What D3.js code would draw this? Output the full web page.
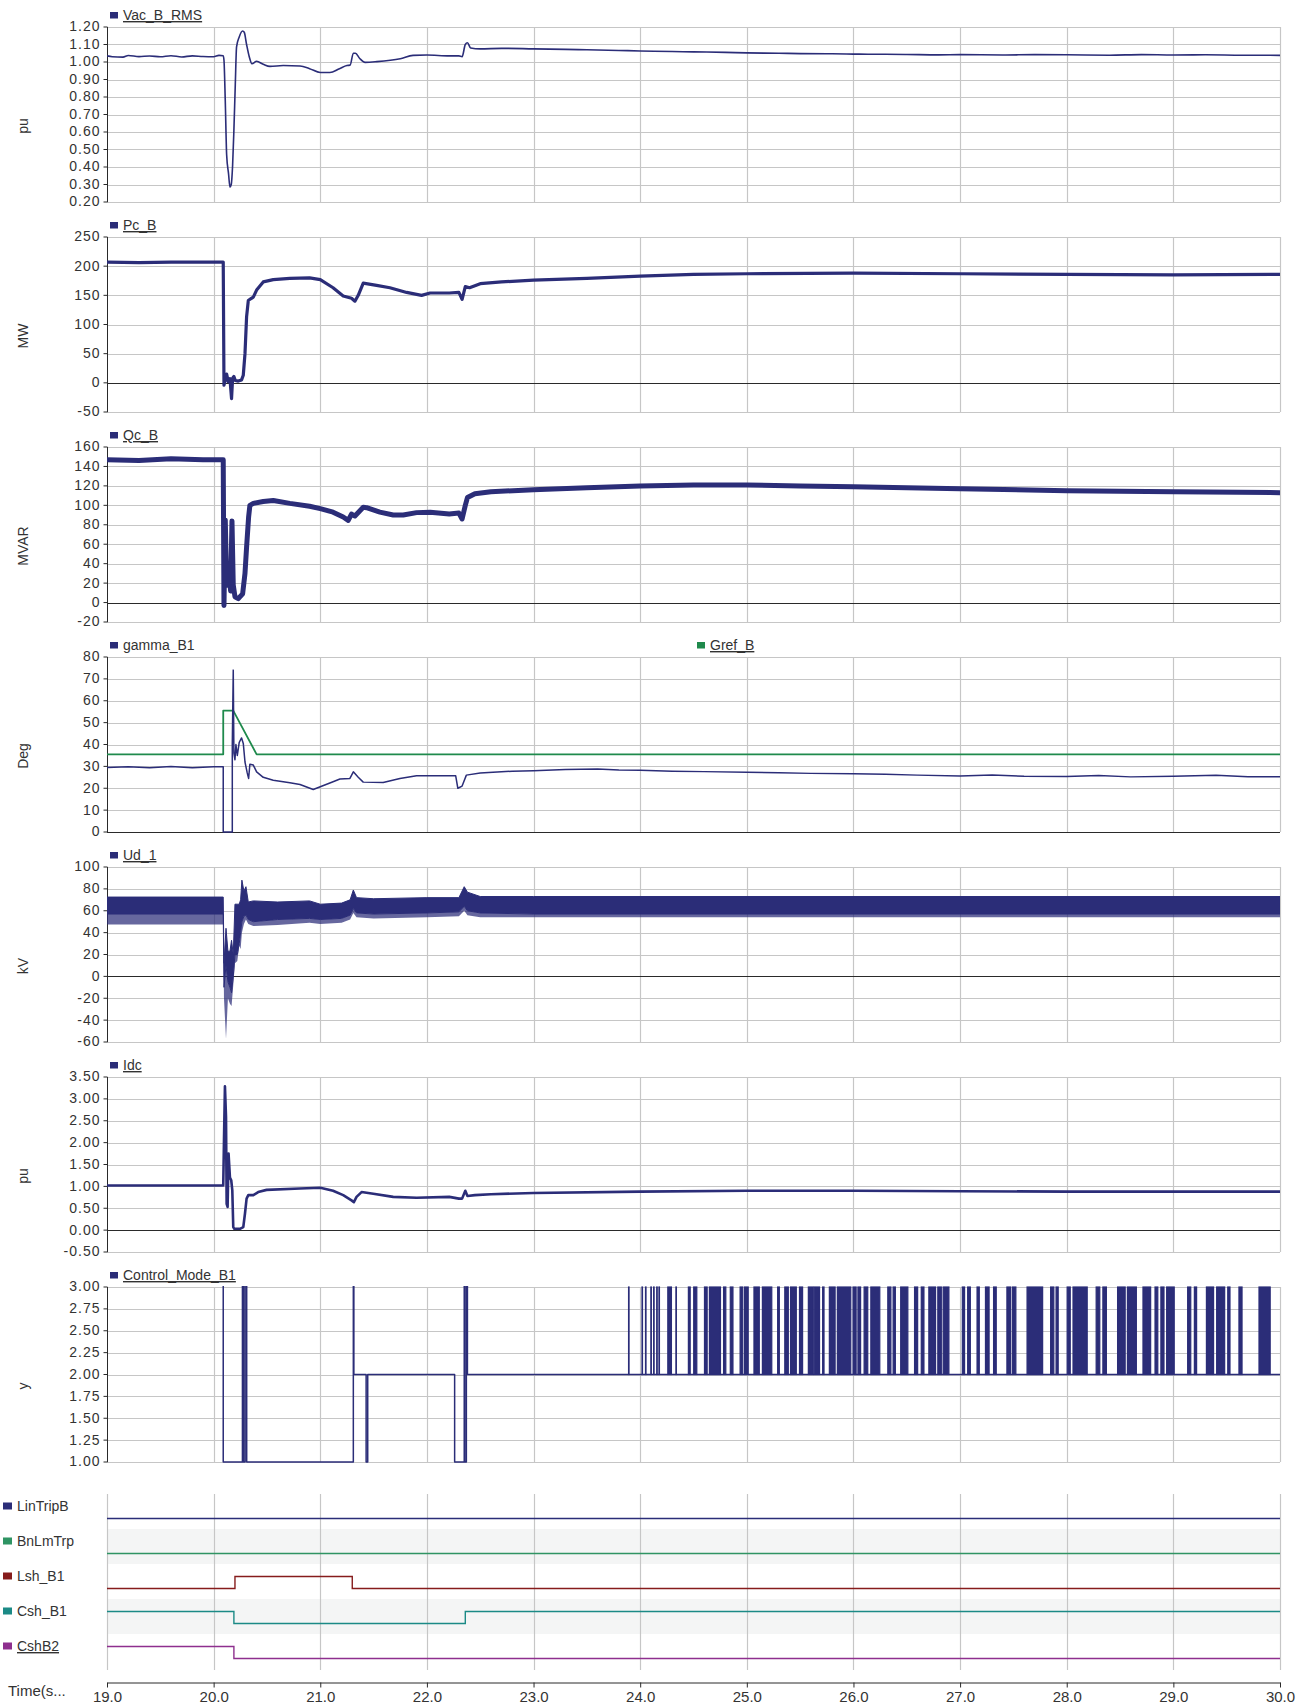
<!DOCTYPE html>
<html><head><meta charset="utf-8">
<script src="https://cdn.jsdelivr.net/npm/d3@7"></script>
<style>
body{margin:0;background:#fff}
svg{display:block;font-family:"Liberation Sans",Arial,sans-serif}
</style>
</head><body>
<svg id="c" width="1303" height="1705"></svg>
<script>
// ---------------- DATA ----------------
const timeTicks = [19,20,21,22,23,24,25,26,27,28,29,30];

const vacTicks = [0.2,0.3,0.4,0.5,0.6,0.7,0.8,0.9,1.0,1.1,1.2];
const vacT = [19.00,19.05,19.15,19.20,19.30,19.40,19.50,19.60,19.70,19.80,19.90,20.00,20.05,20.09,20.097,20.109,20.122,20.14,20.153,20.165,20.178,20.19,20.203,20.215,20.24,20.272,20.287,20.309,20.334,20.359,20.403,20.465,20.528,20.653,20.81,20.90,21.0,21.09,21.18,21.25,21.28,21.31,21.33,21.37,21.42,21.53,21.75,21.87,22.0,22.21,22.30,22.33,22.36,22.38,22.41,22.5,22.7,23.0,23.3,23.5,23.8,24.0,24.3,24.5,24.8,25.0,25.3,25.5,25.8,26.0,26.3,26.5,26.8,27.0,27.4,27.7,28.0,28.4,28.7,29.0,29.3,29.6,30.0];
const vacV = [1.035,1.030,1.028,1.037,1.031,1.034,1.030,1.036,1.029,1.035,1.031,1.030,1.038,1.036,1.01,0.78,0.47,0.36,0.285,0.30,0.41,0.61,0.87,1.086,1.143,1.177,1.17,1.10,1.03,0.99,1.004,0.987,0.975,0.98,0.977,0.962,0.94,0.94,0.962,0.98,0.982,1.05,1.05,1.02,0.998,1.002,1.019,1.038,1.040,1.035,1.035,1.03,1.10,1.11,1.08,1.075,1.078,1.075,1.072,1.07,1.066,1.063,1.060,1.058,1.055,1.052,1.050,1.048,1.047,1.045,1.044,1.043,1.041,1.042,1.040,1.042,1.041,1.039,1.042,1.040,1.041,1.039,1.038];

const pcTicks = [-50,0,50,100,150,200,250];
const pcT = [19.0,19.3,19.6,19.9,20.09,20.097,20.122,20.137,20.153,20.168,20.178,20.19,20.203,20.231,20.262,20.278,20.294,20.309,20.325,20.347,20.372,20.403,20.465,20.559,20.715,20.90,21.0,21.12,21.215,21.293,21.325,21.356,21.403,21.528,21.653,21.81,21.95,22.03,22.21,22.30,22.33,22.36,22.40,22.5,22.7,23.0,23.5,24.0,24.5,25.0,26.0,27.0,28.0,29.0,30.0];
const pcV = [207,206,207,207,207,-4,15,2,7,-27,8,11,4,3,5,13,50,113,141,144,147,159,173,177,179,180,177,163,149,145,140,150,171,167,163,155,150,154,154,155,143,165,163,170,173,176,179,183,186,187,188,187,186,185,186];

const qcTicks = [-20,0,20,40,60,80,100,120,140,160];
const qcT = [19.0,19.3,19.6,19.9,20.09,20.097,20.109,20.122,20.134,20.147,20.159,20.172,20.184,20.2,20.231,20.272,20.294,20.309,20.328,20.34,20.372,20.465,20.559,20.715,20.9,21.0,21.12,21.215,21.262,21.293,21.325,21.403,21.434,21.559,21.684,21.778,21.903,22.03,22.21,22.3,22.33,22.36,22.38,22.45,22.6,23.0,23.5,24.0,24.5,25.0,25.5,26.0,27.0,28.0,29.0,30.0];
const qcV = [147,146,148,147,147,-3,85,20,18,26,12,84,18,6,4,9,30,57,88,100,102,104,105,102,99,96.6,93,88,84.5,91,89,98,97.6,93,90,90,92.5,93,91,92,86,100,108,112,114,116,118,120,121,121,120,119,117,115,114,113];

const gamTicks = [0,10,20,30,40,50,60,70,80];
const gamT = [19.0,19.2,19.4,19.6,19.8,20.0,20.09,20.09,20.175,20.175,20.184,20.19,20.2,20.209,20.222,20.24,20.262,20.278,20.294,20.315,20.328,20.34,20.372,20.403,20.465,20.559,20.715,20.81,20.934,21.0,21.12,21.184,21.278,21.31,21.356,21.403,21.59,21.747,21.903,22.21,22.27,22.29,22.33,22.37,22.5,22.8,23.0,23.3,23.6,23.8,24.0,24.3,24.6,25.0,25.3,25.6,26.0,26.3,26.6,27.0,27.3,27.6,28.0,28.3,28.6,29.0,29.4,29.7,30.0];
const gamV = [29.5,29.8,29.4,29.9,29.4,29.8,29.8,0,0,40,74,36,33,40,35,41,43,40.5,32,27,24.5,31,30.6,27.5,25,23.7,22.5,21.7,19.4,20.7,23,24.2,24.5,27.5,25,22.8,22.6,24.5,25.7,25.7,25.7,20,21,26,27,27.8,28,28.6,28.8,28.3,28.2,27.8,27.6,27.3,27.1,26.8,26.6,26.4,26.0,25.6,26.1,25.5,25.4,25.8,25.2,25.5,25.9,25.3,25.3];
const grefT = [19.0,20.09,20.09,20.184,20.403,30.0];
const grefV = [35.5,35.5,55.5,55.5,35.5,35.5];

const udTicks = [-60,-40,-20,0,20,40,60,80,100];
const udT    = [19.0,20.09,20.097,20.116,20.134,20.153,20.168,20.184,20.2,20.222,20.24,20.253,20.265,20.284,20.303,20.325,20.372,20.6,20.9,21.0,21.2,21.28,21.31,21.34,21.5,22.0,22.3,22.35,22.38,22.5,23.0,30.0];
const udHi   = [72.5,72.5,12,44,23,23,33,20,66,66,66,70,88,78,82,68,69,68,69,66,67,70,79,72,71,72,72,82,77,73,73,73];
const udCore = [57,57,-10,10,-5,-10,-15,0,20,20,30,40,50,55,56,52,50,52,53,52,53,56,62,58,57,58,59,64,60,58,57,57];
const udLo   = [47.5,47.5,-20,-57,-20,-25,-27,-8,12,14,28,25,40,48,52,48,46,47,49,48,49,52,58,54,53,54,55,60,56,54,54,54];

const idcTicks = [-0.5,0,0.5,1,1.5,2,2.5,3,3.5];
const idcT = [19.0,19.5,20.09,20.097,20.106,20.116,20.122,20.131,20.14,20.153,20.165,20.175,20.184,20.194,20.247,20.278,20.294,20.309,20.325,20.372,20.418,20.497,20.81,21.0,21.12,21.215,21.293,21.315,21.34,21.387,21.497,21.684,21.903,22.21,22.3,22.33,22.36,22.38,22.45,22.6,23.0,24.0,25.0,26.0,27.0,28.0,29.0,30.0];
const idcV = [1.02,1.02,1.02,2.05,3.29,2.59,0.6,0.53,1.75,1.2,1.14,0.91,0.07,0.03,0.03,0.07,0.38,0.72,0.8,0.8,0.87,0.92,0.95,0.97,0.9,0.8,0.68,0.64,0.76,0.87,0.83,0.76,0.74,0.76,0.72,0.72,0.9,0.78,0.8,0.82,0.85,0.88,0.9,0.9,0.89,0.88,0.88,0.88];

const cmTicks = [1,1.25,1.5,1.75,2,2.25,2.5,2.75,3];
const cmT = [19.0,20.09,20.27,20.28,20.295,20.31,21.31,21.315,21.43,21.445,22.26,22.35,22.355,22.37,22.38,30.0];
const cmV = [4,1,4,1,4,1,4,2,1,2,1,4,1,4,2,2];
// intervals where Control_Mode_B1 switches rapidly to 3
const cmPulseStart = [23.891,24.017,24.05,24.10,24.126,24.155,24.176,24.259,24.335,24.452,24.502,24.603,24.649,24.782,24.845,24.937,24.979,25.067,25.146,25.289,25.356,25.41,25.494,25.577,25.632,25.711,25.774,25.849,25.996,26.042,26.10,26.163,26.322,26.372,26.443,26.573,26.636,26.707,26.791,26.841,27.021,27.071,27.159,27.238,27.314,27.439,27.49,27.628,27.849,27.9,28.004,28.059,28.276,28.339,28.477,28.569,28.715,28.828,28.883,28.937,29.134,29.197,29.31,29.406,29.51,29.615,29.803];
const cmPulseEnd   = [23.894,24.020,24.053,24.103,24.129,24.158,24.179,24.293,24.338,24.469,24.531,24.628,24.753,24.803,24.87,24.962,25.013,25.117,25.234,25.305,25.389,25.464,25.523,25.623,25.682,25.724,25.828,25.975,26.025,26.067,26.134,26.247,26.351,26.393,26.51,26.602,26.661,26.77,26.824,26.895,27.042,27.096,27.18,27.272,27.339,27.473,27.523,27.774,27.879,27.92,28.033,28.192,28.31,28.372,28.548,28.653,28.787,28.854,28.912,29.008,29.163,29.218,29.377,29.481,29.531,29.644,29.908];

const digNames = ["LinTripB","BnLmTrp","Lsh_B1","Csh_B1","CshB2"];
const digT = [[19,30],[19,30],[19,20.2,21.3,30],[19,20.19,22.36,30],[19,20.19,30]];
const digV = [[0,0],[0,0],[0,1,0,0],[1,0,1,1],[1,0,0]];

// ---------------- DRAW ----------------
const NAVY = "#2b2d78", GREEN = "#1f8a4c", GRID = "#c6c6c6", DARK = "#2a2a2a", TXT = "#333";
const digColors = [NAVY, "#2f9463", "#861c1c", "#1b8a86", "#8e2f8e"];
const digUnder = [false,false,false,false,true];
const X0 = 107, X1 = 1280, PH = 175;
const TOPS = [27,237,447,657,867,1077,1287];
const svg = d3.select("#c");
const x = d3.scaleLinear().domain([19,30]).range([X0,X1]);
const px = v => Math.round(v) + 0.5;
const fmtH = f => { const ff = d3.format(f); return d => ff(d).replace("\u2212","-"); };

function legendItem(g, lx, ly, name, color, underline){
  g.append("rect").attr("x",lx).attr("y",ly-3).attr("width",8).attr("height",6.5).attr("fill",color);
  g.append("text").attr("x",lx+13).attr("y",ly+5).attr("font-size",14).attr("fill",TXT)
    .style("text-decoration", underline ? "underline" : "none").text(name);
}

function panel(i, dom, ticks, fmt, title, legends, zeroDark){
  const top = TOPS[i], bot = top + PH;
  const y = d3.scaleLinear().domain(dom).range([bot, top]);
  const g = svg.append("g");
  g.append("g").selectAll("line").data(ticks).join("line")
    .attr("x1",X0).attr("x2",X1).attr("y1",d=>px(y(d))).attr("y2",d=>px(y(d)))
    .attr("stroke",GRID).attr("stroke-width",1.2);
  g.append("g").selectAll("line").data(timeTicks.slice(1)).join("line")
    .attr("x1",d=>px(x(d))).attr("x2",d=>px(x(d))).attr("y1",top).attr("y2",bot)
    .attr("stroke",GRID).attr("stroke-width",1.2);
  if (zeroDark) g.append("line").attr("x1",X0).attr("x2",X1).attr("y1",px(y(0))).attr("y2",px(y(0)))
    .attr("stroke",DARK).attr("stroke-width",1.2);
  const ax = g.append("g").attr("transform",`translate(${X0+0.5},0)`)
    .call(d3.axisLeft(y).tickValues(ticks).tickFormat(fmtH(fmt)).tickSize(4).tickPadding(3).offset(0));
  ax.select(".domain").attr("stroke",DARK).attr("d",`M0,${top}V${bot}`);
  ax.selectAll(".tick line").attr("stroke",DARK);
  ax.selectAll(".tick text").attr("font-size",14).attr("fill",TXT)
    .attr("font-family",'"Liberation Sans",Arial,sans-serif').style("letter-spacing","1px");
  g.append("text").attr("transform",`translate(28,${top+99}) rotate(-90)`).attr("text-anchor","middle")
    .attr("font-size",14).attr("fill",TXT).text(title);
  legends.forEach(l => legendItem(g, l[0], top-12, l[1], l[2], l[3]));
  const cid = "clip"+i;
  svg.append("clipPath").attr("id",cid).append("rect").attr("x",X0).attr("y",top-1).attr("width",X1-X0).attr("height",PH+2);
  const data = g.append("g").attr("clip-path",`url(#${cid})`);
  return {y, data};
}

function drawLine(p, T, V, color, w, curve){
  const line = d3.line().x(i=>x(T[i])).y(i=>p.y(V[i])).curve(curve || d3.curveLinear);
  p.data.append("path").attr("d", line(d3.range(T.length))).attr("fill","none")
    .attr("stroke",color).attr("stroke-width",w).attr("stroke-linejoin","round");
}

// Panel 1
let p = panel(0,[0.2,1.2],vacTicks,".2f","pu",[[110,"Vac_B_RMS",NAVY,true]],false);
drawLine(p, vacT, vacV, NAVY, 1.6, d3.curveMonotoneX);
// Panel 2
p = panel(1,[-50,250],pcTicks,"d","MW",[[110,"Pc_B",NAVY,true]],true);
drawLine(p, pcT, pcV, NAVY, 3.2);
// Panel 3
p = panel(2,[-20,160],qcTicks,"d","MVAR",[[110,"Qc_B",NAVY,true]],true);
drawLine(p, qcT, qcV, NAVY, 5);
// Panel 4
p = panel(3,[0,80],gamTicks,"d","Deg",[[110,"gamma_B1",NAVY,false],[697,"Gref_B",GREEN,true]],true);
drawLine(p, grefT, grefV, GREEN, 1.8);
drawLine(p, gamT, gamV, NAVY, 1.5);
// Panel 5
p = panel(4,[-60,100],udTicks,"d","kV",[[110,"Ud_1",NAVY,true]],true);
{
  const idx = d3.range(udT.length);
  const core = d3.area().x(i=>x(udT[i])).y0(i=>p.y(udCore[i])).y1(i=>p.y(udHi[i]));
  const spikes = d3.area().x(i=>x(udT[i])).y0(i=>p.y(udLo[i])).y1(i=>p.y(udCore[i]));
  p.data.append("path").attr("d",spikes(idx)).attr("fill",NAVY).attr("fill-opacity",0.72);
  p.data.append("path").attr("d",core(idx)).attr("fill",NAVY).attr("stroke",NAVY).attr("stroke-width",1);
}
// Panel 6
p = panel(5,[-0.5,3.5],idcTicks,".2f","pu",[[110,"Idc",NAVY,true]],true);
drawLine(p, idcT, idcV, NAVY, 2.6);
// Panel 7
p = panel(6,[1,3],cmTicks,".2f","y",[[110,"Control_Mode_B1",NAVY,true]],false);
drawLine(p, cmT, cmV, NAVY, 1.5, d3.curveStepAfter);
p.data.selectAll("rect.pulse").data(d3.range(cmPulseStart.length)).join("rect")
  .attr("x",i=>x(cmPulseStart[i])).attr("width",i=>Math.max(0.5, x(cmPulseEnd[i])-x(cmPulseStart[i])))
  .attr("y",p.y(3)).attr("height",p.y(2)-p.y(3))
  .attr("fill",NAVY).attr("stroke",NAVY).attr("stroke-width",1.2);

// Digital panel
const DT = 1494, RH = 35;
const dg = svg.append("g");
dg.selectAll("rect.band").data([1,3]).join("rect").attr("x",X0).attr("width",X1-X0)
  .attr("y",r=>DT+r*RH).attr("height",RH).attr("fill","#f4f5f5");
dg.selectAll("line.v").data(timeTicks).join("line")
  .attr("x1",d=>px(x(d))).attr("x2",d=>px(x(d))).attr("y1",DT).attr("y2",DT+5*RH+1)
  .attr("stroke",GRID).attr("stroke-width",1.2);
digNames.forEach((n,r)=>{
  const rt = DT + r*RH;
  const yd = d3.scaleLinear().domain([0,1]).range([rt+24, rt+12]);
  const line = d3.line().x(i=>x(digT[r][i])).y(i=>Math.round(yd(digV[r][i]))+0.5).curve(d3.curveStepAfter);
  dg.append("path").attr("d",line(d3.range(digT[r].length))).attr("fill","none")
    .attr("stroke",digColors[r]).attr("stroke-width",1.4);
  dg.append("rect").attr("x",3).attr("y",rt+8.5).attr("width",9).attr("height",7).attr("fill",digColors[r]);
  dg.append("text").attr("x",17).attr("y",rt+17).attr("font-size",14).attr("fill",TXT)
    .style("text-decoration", digUnder[r] ? "underline":"none").text(n);
});

// X axis
const xa = svg.append("g").attr("transform","translate(0,1682.5)")
  .call(d3.axisBottom(x).tickValues(timeTicks).tickFormat(d3.format(".1f")).tickSize(5).tickPadding(4).tickSizeOuter(0));
xa.select(".domain").attr("stroke",DARK);
xa.selectAll(".tick line").attr("stroke",DARK);
xa.selectAll(".tick text").attr("font-size",15).attr("fill",TXT).attr("font-family",'"Liberation Sans",Arial,sans-serif');
svg.append("text").attr("x",8).attr("y",1696).attr("font-size",15).attr("fill",TXT).text("Time(s...");
</script>
</body></html>
